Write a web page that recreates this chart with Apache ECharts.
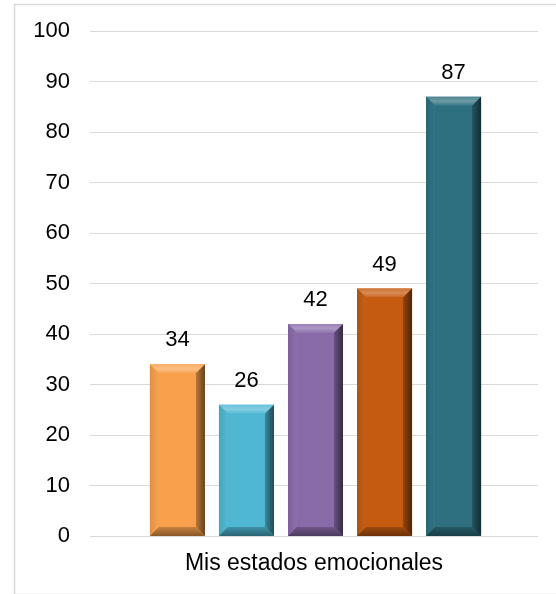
<!DOCTYPE html>
<html>
<head>
<meta charset="utf-8">
<script src="https://cdn.jsdelivr.net/npm/echarts@6/dist/echarts.min.js"></script>
<style>
html,body{margin:0;padding:0;background:#fff;}
#main{width:556px;height:594px;}
</style>
</head>
<body>
<div id="main"></div>
<script>
const categories = ['Mis estados emocionales'];
const values = [34, 26, 42, 49, 87];
const barColors = ['#F9A04C', '#4FB7D2', '#8A6BAA', '#C55A11', '#2E7080'];
const yMin = 0, yMax = 100, yInterval = 10;

function shade(hex, f) {
  const n = parseInt(hex.slice(1), 16);
  let r = (n >> 16) & 255, g = (n >> 8) & 255, b = n & 255;
  if (f >= 0) { r = r + (255 - r) * f; g = g + (255 - g) * f; b = b + (255 - b) * f; }
  else { r = r * (1 + f); g = g * (1 + f); b = b * (1 + f); }
  return 'rgb(' + Math.round(r) + ',' + Math.round(g) + ',' + Math.round(b) + ')';
}

const nBars = values.length;
const data = values.map((v, i) => [0, v, i]);
const FONT = '"Liberation Sans", Arial, sans-serif';

function renderItem(params, api) {
  const idx = api.value(2), v = api.value(1);
  const base = api.coord([api.value(0), 0]);
  const top = api.coord([api.value(0), v]);
  const cw = api.size([1, 0])[0];
  const bw = cw * 0.1228, gap = bw * 0.255;
  const total = nBars * bw + (nBars - 1) * gap;
  const x0 = base[0] + 1.5 - total / 2 + idx * (bw + gap), x1 = x0 + bw;
  const y0 = top[1], y1 = base[1];
  const c = barColors[idx];
  const b = Math.min(9, (y1 - y0) / 2);
  return {
    type: 'group',
    children: [
      { type: 'rect', shape: { x: x0, y: y0, width: bw, height: y1 - y0 },
        style: { fill: c } },
      { type: 'polygon', shape: { points: [[x0, y0], [x1, y0], [x1 - b, y0 + b], [x0 + b, y0 + b]] },
        style: { fill: new echarts.graphic.LinearGradient(0, 0, 0, 1, [
          { offset: 0, color: shade(c, 0.15) }, { offset: 0.5, color: shade(c, 0.3) }, { offset: 1, color: shade(c, 0.05) }]) } },
      { type: 'polygon', shape: { points: [[x0, y0], [x0 + b, y0 + b], [x0 + b, y1 - b], [x0, y1]] },
        style: { fill: new echarts.graphic.LinearGradient(0, 0, 1, 0, [
          { offset: 0, color: shade(c, -0.1) }, { offset: 1, color: shade(c, 0.03) }]) } },
      { type: 'polygon', shape: { points: [[x1, y0], [x1, y1], [x1 - b, y1 - b], [x1 - b, y0 + b]] },
        style: { fill: new echarts.graphic.LinearGradient(0, 0, 1, 0, [
          { offset: 0, color: shade(c, -0.25) }, { offset: 1, color: shade(c, -0.6) }]) } },
      { type: 'polygon', shape: { points: [[x0, y1], [x0 + b, y1 - b], [x1 - b, y1 - b], [x1, y1]] },
        style: { fill: new echarts.graphic.LinearGradient(0, 0, 0, 1, [
          { offset: 0, color: shade(c, -0.2) }, { offset: 1, color: shade(c, -0.45) }]) } },
      { type: 'text', x: (x0 + x1) / 2, y: y0 - 24,
        style: { text: String(v), fill: '#000', font: '22px ' + FONT,
          align: 'center', verticalAlign: 'middle' } }
    ]
  };
}

const chart = echarts.init(document.getElementById('main'), null, { renderer: 'canvas' });
chart.setOption({
  animation: false,
  backgroundColor: '#fff',
  graphic: [{ type: 'rect', left: 12, top: 2, shape: { width: 543, height: 590 },
    style: { fill: 'none', stroke: '#d9d9d9', lineWidth: 1.5 }, silent: true }],
  grid: { left: 90, right: 18, top: 31, bottom: 58, containLabel: false },
  xAxis: {
    type: 'category', data: categories,
    axisLine: { show: false }, axisTick: { show: false },
    axisLabel: { color: '#000', fontSize: 23, fontFamily: FONT, margin: 16 }
  },
  yAxis: {
    type: 'value', min: yMin, max: yMax, interval: yInterval,
    axisLine: { show: false }, axisTick: { show: false },
    splitLine: { lineStyle: { color: '#d9d9d9', width: 1 } },
    axisLabel: { color: '#000', fontSize: 22, fontFamily: FONT, margin: 20 }
  },
  series: [{
    type: 'custom', renderItem: renderItem, data: data,
    encode: { x: 0, y: 1 }, clip: false
  }]
});
</script>
</body>
</html>
